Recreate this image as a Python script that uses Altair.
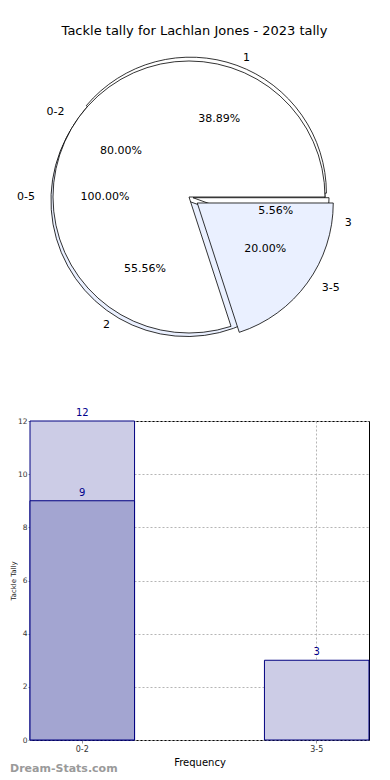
import altair as alt
import pandas as pd

# ---------------- data ----------------
ring_all_labels = ["0-5"]
ring_all_values = [15]
ring_range_labels = ["0-2", "3-5"]
ring_range_values = [12, 3]
ring_tally_labels = ["1", "2", "3"]
ring_tally_values = [7, 10, 1]

bar_categories = ["0-2", "3-5"]
bar_totals = [12, 3]
bar_part_categories = ["0-2"]
bar_part_values = [9]

title_text = "Tackle tally for Lachlan Jones - 2023 tally"
x_title = "Frequency"
y_title = "Tackle Tally"
watermark = ["Dream-Stats.com"]

# ---------------- styles ----------------
ring_style = {
    "all": {"explode": [0.0], "fill": ["white"]},
    "range": {"explode": [0.0, 0.075], "fill": ["white", "#eaf0ff"]},
    "tally": {"explode": [0.03, 0.03, 0.03], "fill": ["white", "#eaf0ff", "white"]},
}
draw_order = ["all", "tally", "range"]

R = 136        # wedge radius (px)
RX = 140       # horizontal radius used for text placement
RY = 131       # vertical radius used for text placement
CX = 159
CY = 155
W = 339
H_PIE = 330
H_BAR = 319
FONT = "DejaVu Sans"

rows = []
for ring, labels, values in [
    ("all", ring_all_labels, ring_all_values),
    ("range", ring_range_labels, ring_range_values),
    ("tally", ring_tally_labels, ring_tally_values),
]:
    for i, (lab, val) in enumerate(zip(labels, values)):
        rows.append({
            "ring": ring, "idx": i, "label": lab, "value": val,
            "explode": ring_style[ring]["explode"][i],
            "fill": ring_style[ring]["fill"][i],
        })
pie_df = pd.DataFrame(rows)

pie_base = (
    alt.Chart(pie_df)
    .transform_joinaggregate(total="sum(value)", groupby=["ring"])
    .transform_window(cum="sum(value)", groupby=["ring"],
                      sort=[alt.SortField("idx")], frame=[None, 0])
    .transform_calculate(a1="2*PI*(datum.cum - datum.value)/datum.total")
    .transform_calculate(a2="2*PI*datum.cum/datum.total")
    .transform_calculate(mid="(datum.a1 + datum.a2)/2")
    .transform_calculate(t1="PI/2 - datum.a2")
    .transform_calculate(t2="PI/2 - datum.a1")
    .transform_calculate(cx=f"{CX} + datum.explode*{R}*cos(datum.mid)")
    .transform_calculate(cy=f"{CY} - datum.explode*{R}*sin(datum.mid)")
    .transform_calculate(sx="datum.cx - 2")
    .transform_calculate(sy="datum.cy + 3")
    .transform_calculate(lx=f"datum.cx + 1.1*{RX}*cos(datum.mid)")
    .transform_calculate(ly=f"datum.cy - 1.1*{RY}*sin(datum.mid)")
    .transform_calculate(px=f"datum.cx + 0.6*{RX}*cos(datum.mid)")
    .transform_calculate(py=f"datum.cy - 0.6*{RY}*sin(datum.mid)")
    .transform_calculate(pct="format(100*datum.value/datum.total, '.2f') + '%'")
    .transform_calculate(side="cos(datum.mid) >= 0 ? 'left' : 'right'")
)

shadow = pie_base.transform_filter(alt.datum.ring == "all").mark_arc(
    radius=R, fill="#4d4d4d", opacity=0.55
).encode(
    x=alt.X("sx:Q", scale=None, axis=None),
    y=alt.Y("sy:Q", scale=None, axis=None),
    theta=alt.Theta("t1:Q", scale=None),
    theta2="t2:Q",
)


def ring_layer(ring):
    return pie_base.transform_filter(alt.datum.ring == ring).mark_arc(
        radius=R, stroke="black", strokeWidth=0.8
    ).encode(
        x=alt.X("cx:Q", scale=None, axis=None),
        y=alt.Y("cy:Q", scale=None, axis=None),
        theta=alt.Theta("t1:Q", scale=None),
        theta2="t2:Q",
        fill=alt.Fill("fill:N", scale=None),
    )


pct_text = pie_base.mark_text(font=FONT, fontSize=11, color="black").encode(
    x=alt.X("px:Q", scale=None, axis=None),
    y=alt.Y("py:Q", scale=None, axis=None),
    text="pct:N",
)
lab_left = pie_base.transform_filter(alt.datum.side == "left").mark_text(
    font=FONT, fontSize=11, color="black", align="left", baseline="middle"
).encode(
    x=alt.X("lx:Q", scale=None, axis=None),
    y=alt.Y("ly:Q", scale=None, axis=None),
    text="label:N",
)
lab_right = pie_base.transform_filter(alt.datum.side == "right").mark_text(
    font=FONT, fontSize=11, color="black", align="right", baseline="middle"
).encode(
    x=alt.X("lx:Q", scale=None, axis=None),
    y=alt.Y("ly:Q", scale=None, axis=None),
    text="label:N",
)

pie = alt.layer(
    shadow, *[ring_layer(r) for r in draw_order], pct_text, lab_left, lab_right
).properties(
    width=W, height=H_PIE,
    title=alt.TitleParams(title_text, font=FONT, fontSize=13, fontWeight="normal",
                          color="black", anchor="middle", dx=-5),
    view=alt.ViewBackground(stroke="transparent"),
)

# ---------------- bar chart ----------------
bar_df = pd.DataFrame({"category": bar_categories, "total": bar_totals})
part_df = pd.DataFrame({"category": bar_part_categories, "part": bar_part_values})
wm_df = pd.DataFrame({"t": watermark})

x_enc = alt.X(
    "category:N", sort=bar_categories,
    scale=alt.Scale(domain=bar_categories, paddingInner=0.554, paddingOuter=0),
    axis=alt.Axis(title=x_title, labelAngle=0, bandPosition=0.5, grid=True,
                  gridDash=[2, 2], gridColor="#b5b5b5", tickColor="#999999",
                  tickSize=3, domain=False, labelFontSize=8, labelColor="#333333",
                  labelFont=FONT, titleFont=FONT, titleFontSize=10,
                  titleFontWeight="normal", titleColor="black", titlePadding=4),
)
y_axis = alt.Axis(title=y_title, values=[0, 2, 4, 6, 8, 10, 12], grid=True,
                  gridDash=[2, 2], gridColor="#b5b5b5", tickColor="#999999",
                  tickSize=2, labelPadding=1, domain=False, labelFontSize=7.5,
                  labelColor="#333333", labelFont=FONT, titleFont=FONT,
                  titleFontSize=7, titleFontWeight="normal", titleColor="#222222",
                  titlePadding=1)
y_scale = alt.Scale(domain=[0, 12], nice=False)

light = alt.Chart(bar_df).mark_bar(fill="#ccccE6", stroke="#000080", strokeWidth=1).encode(
    x=x_enc, y=alt.Y("total:Q", scale=y_scale, axis=y_axis))
dark = alt.Chart(part_df).mark_bar(fill="#a3a5d1", stroke="#000080", strokeWidth=1).encode(
    x=x_enc, y=alt.Y("part:Q", scale=y_scale, axis=y_axis))
light_txt = alt.Chart(bar_df).mark_text(font=FONT, fontSize=10, color="#00008b",
                                        baseline="bottom", dy=-3).encode(
    x=x_enc, y=alt.Y("total:Q", scale=y_scale, axis=y_axis), text="total:Q")
dark_txt = alt.Chart(part_df).mark_text(font=FONT, fontSize=10, color="#00008b",
                                        baseline="bottom", dy=-3).encode(
    x=x_enc, y=alt.Y("part:Q", scale=y_scale, axis=y_axis), text="part:Q")
wm = alt.Chart(wm_df).mark_text(font=FONT, fontSize=11, fontWeight="bold",
                                color="#9a9a9a", align="left", baseline="middle").encode(
    x=alt.value(-20), y=alt.value(H_BAR + 29), text="t:N")

bar = alt.layer(light, dark, light_txt, dark_txt, wm).properties(
    width=W, height=H_BAR,
    view=alt.ViewBackground(stroke="black", strokeWidth=1),
)

chart = alt.vconcat(pie, bar, spacing=34).properties(
    padding={"left": 0, "top": 16, "right": 5, "bottom": 2}
)

chart.save("out.html", embed_options={"renderer": "svg", "actions": False})
